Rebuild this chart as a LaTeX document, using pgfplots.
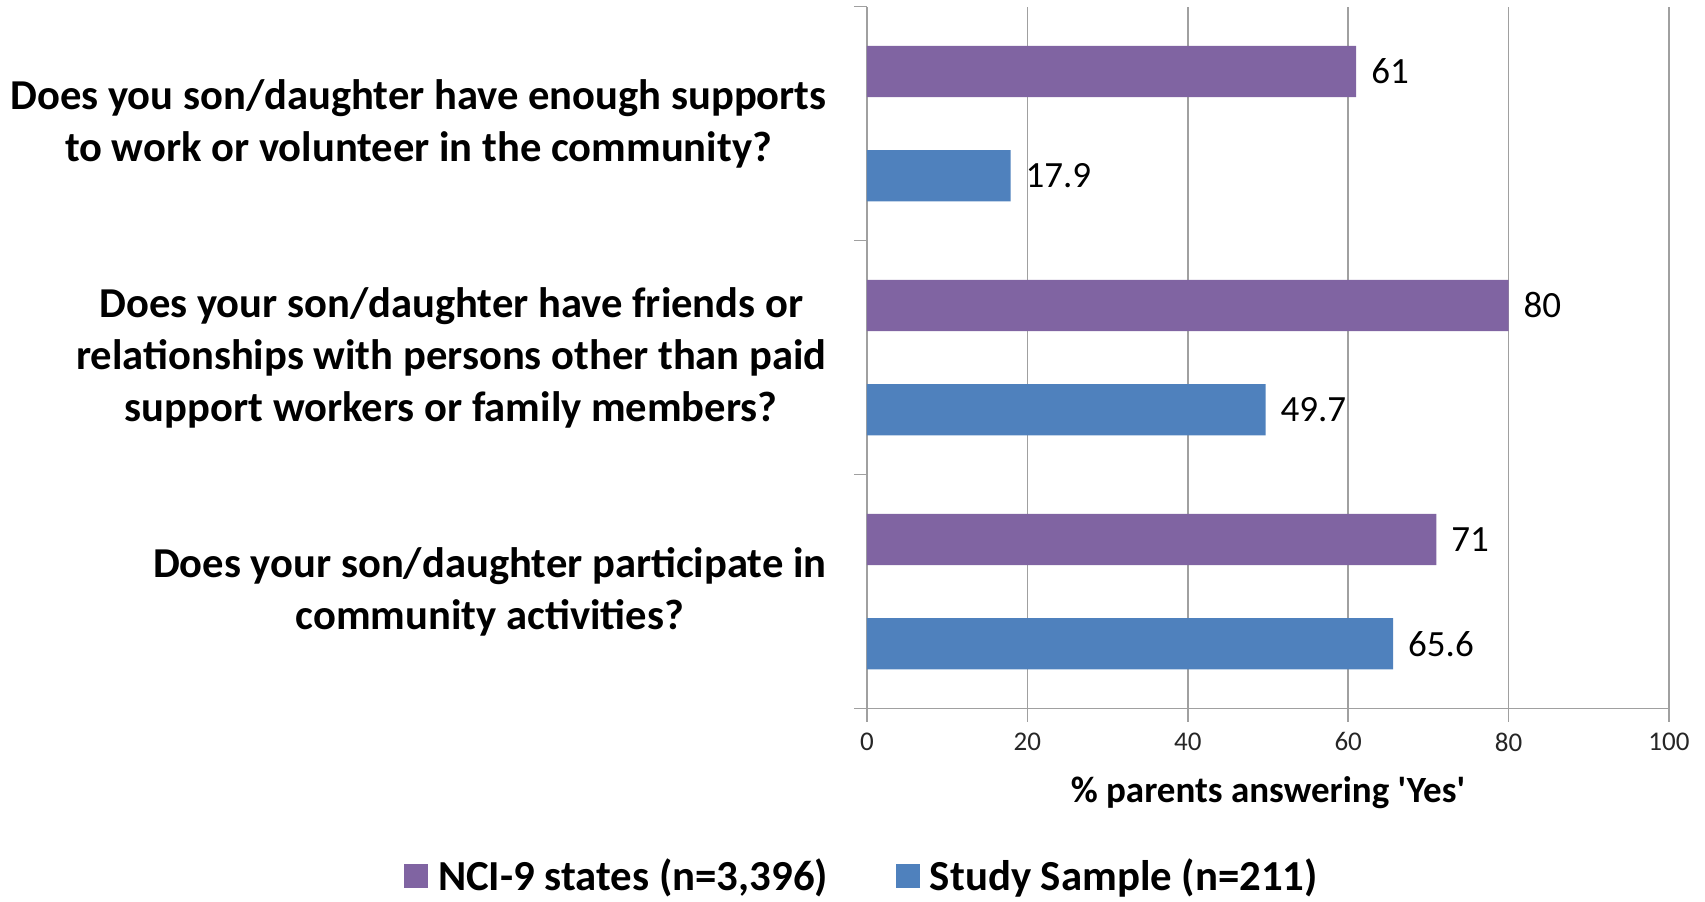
\documentclass[border=0pt]{standalone}
\usepackage{pgfplots}
\pgfplotsset{compat=1.18}
\usepackage{fontspec}
\setmainfont{Carlito}[Ligatures=TeXOff]
\definecolor{nci}{HTML}{8064A2}
\definecolor{study}{HTML}{4F81BD}
\definecolor{gridc}{HTML}{A0A0A0}
\begin{document}
\begin{tikzpicture}[x=1pt,y=1pt]
\path (-433.5,-96.5) rectangle (419,353.5);
\begin{axis}[
  at={(0,0)}, anchor=south west,
  scale only axis, width=401pt, height=351pt,
  xbar,
  xmin=0, xmax=100, ymin=-0.5, ymax=2.5,
  /pgf/number format/assume math mode=true,
  bar width=0.219,
  axis x line*=bottom, axis y line*=left,
  axis line style={gridc, line width=0.8pt},
  every tick/.style={gridc, line width=0.8pt},
  tick align=outside,
  major tick length=6.5pt,
  xtick={0,20,...,100},
  xmajorgrids=true,
  major grid style={gridc, line width=0.8pt},
  ytick={-0.5,0.5,1.5,2.5},
  yticklabels={},
  extra y ticks={0,1,2},
  extra y tick labels={
    {Does your son/daughter participate in\\community activities?},
    {Does your son/daughter have friends or\\relationships with persons other than paid\\support workers or family members?},
    {Does you son/daughter have enough supports\\to work or volunteer in the community?}},
  extra y tick style={major tick length=0pt,
    yticklabel style={align=center, anchor=east, xshift=-16.7pt,
      font=\fontsize{21.3}{26}\selectfont\bfseries}},
  xticklabel style={font=\fontsize{13.5}{15}\selectfont, text=black!85, yshift=-2pt},
  xlabel={\% parents answering 'Yes'},
  xlabel style={font=\fontsize{18.5}{22}\selectfont\bfseries, at={(axis description cs:0.5,-0.1195)}, anchor=center},
  nodes near coords,
  nodes near coords style={anchor=west, xshift=4pt, font=\fontsize{18.5}{20}\selectfont, text=black},
  legend columns=2,
  legend style={draw=none, at={(axis description cs:-0.005,-0.239)}, anchor=center,
    font=\fontsize{21.4}{24}\selectfont\bfseries,
    /tikz/every even column/.append style={column sep=32pt}},
  legend image code/.code={\fill[#1] (0pt,-6pt) rectangle (12pt,6pt); \path (15pt,0pt);},
]
\addplot[fill=nci, draw=none, bar shift=0.223] coordinates {(71,0) (80,1) (61,2)};
\addlegendentry{NCI-9 states (n=3,396)}
\addplot[fill=study, draw=none, bar shift=-0.223] coordinates {(65.6,0) (49.7,1) (17.9,2)};
\addlegendentry{Study Sample (n=211)}
\end{axis}
\end{tikzpicture}
\end{document}
